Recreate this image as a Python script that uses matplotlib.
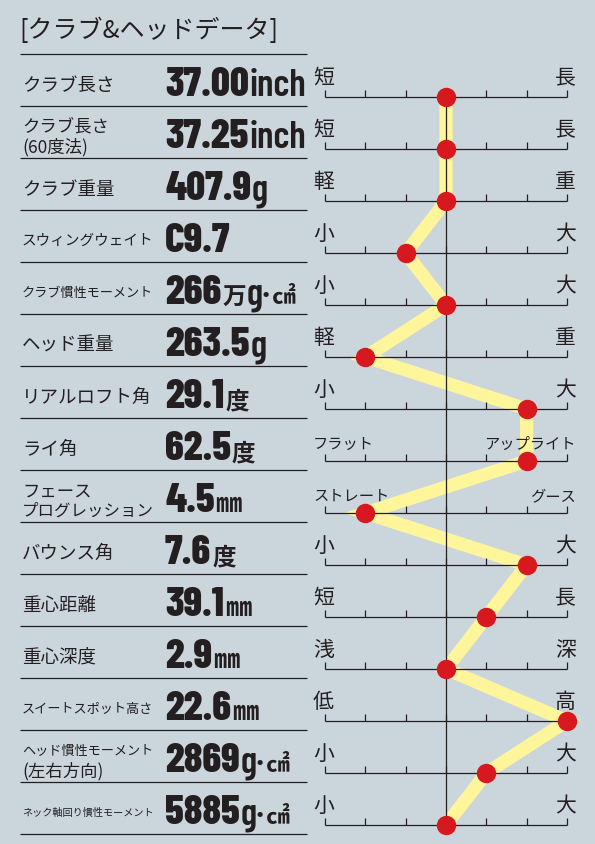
import matplotlib
matplotlib.use("Agg")
import matplotlib.pyplot as plt
from matplotlib import font_manager

# ---- data ----
labels = ["クラブ長さ", "クラブ長さ\n(60度法)", "クラブ重量", "スウィングウェイト",
          "クラブ慣性モーメント", "ヘッド重量", "リアルロフト角", "ライ角",
          "フェース\nプログレッション", "バウンス角", "重心距離", "重心深度",
          "スイートスポット高さ", "ヘッド慣性モーメント\n(左右方向)", "ネック軸回り慣性モーメント"]
numbers = ["37.00", "37.25", "407.9", "C9.7", "266", "263.5", "29.1", "62.5",
           "4.5", "7.6", "39.1", "2.9", "22.6", "2869", "5885"]
units = ["inch", "inch", "g", "", "万g·㎠", "g", "度", "度",
         "㎜", "度", "㎜", "㎜", "㎜", "g·㎠", "g·㎠"]
left_ends = ["短", "短", "軽", "小", "小", "軽", "小", "フラット", "ストレート",
             "小", "短", "浅", "低", "小", "小"]
right_ends = ["長", "長", "重", "大", "大", "重", "大", "アップライト", "グース",
              "大", "長", "深", "高", "大", "大"]
ratings = [0, 0, 0, -1, 0, -2, 2, 2, -2, 2, 1, 0, 3, 1, 0]
scale_ticks = [-3, -2, -1, 0, 1, 2, 3]
title = "[クラブ&ヘッドデータ]"

bg = "#cbd5dc"
ink = "#231f20"
yellow = "#fff59b"
red = "#d7191f"

avail = {f.name for f in font_manager.fontManager.ttflist}


def pick(*cands):
    for c in cands:
        if c in avail:
            return [c, "DejaVu Sans"]
    return ["DejaVu Sans"]


JP = ["Noto Sans CJK JP", "DejaVu Sans"]
NUM = pick("Barlow Condensed", "Roboto Condensed", "Archivo Narrow", "Oswald", "Roboto")

fig = plt.figure(figsize=(5.95, 8.44), dpi=100)
fig.patch.set_facecolor(bg)

# scale panel: x = rating, y = row index
n = len(labels)
axr = fig.add_axes([325 / 595, 1 - 825 / 844, 242 / 595, 728 / 844])
axr.set_xlim(-3, 3)
axr.set_ylim(n - 1, 0)
axr.axis("off")
axr.set_zorder(1)

ax = fig.add_axes([0, 0, 1, 1])
ax.set_xlim(0, 595)
ax.set_ylim(844, 0)
ax.axis("off")
ax.set_zorder(2)
renderer = fig.canvas.get_renderer()


def put(x, y, s, size, family, weight="normal", ha="left"):
    t = ax.text(x, y, s, fontsize=size, family=family, fontweight=weight,
                ha=ha, va="baseline", color=ink)
    return t.get_window_extent(renderer).width


def fit_size(s, size, width):
    t = ax.text(0, 0, s, fontsize=size, family=JP)
    w = t.get_window_extent(renderer).width
    t.remove()
    return min(size, size * width / w)


def is_cjk(c):
    return ord(c) > 0x2000 and c != "·"


# title
put(19, 38, title, 18, JP)

pitch = 52
ax.hlines([54 + pitch * k for k in range(n + 1)], 20, 307, color=ink, lw=0.9)

for i in range(n):
    mid = 83.5 + pitch * i
    lines = labels[i].split("\n")
    if len(lines) == 1:
        fs = fit_size(lines[0], 13.3, 132)
        put(22, mid + 0.39 * fs * 100 / 72, lines[0], fs, JP)
    else:
        for s, dy in zip(lines, (-10, 10)):
            fs = fit_size(s, 12.5, 132)
            put(22, mid + dy + 0.39 * fs * 100 / 72, s, fs, JP)

    # value: heavy condensed digits, then unit pieces
    vb = 96.5 + pitch * i
    x = 165
    x += put(x, vb, numbers[i], 30, NUM, 800) + 1
    runs = []
    for c in units[i]:
        if runs and is_cjk(runs[-1][-1]) == is_cjk(c):
            runs[-1] += c
        else:
            runs.append(c)
    for r in runs:
        if r == "㎜":
            x += put(x, vb, r, 19, JP, "bold") + 1
        elif is_cjk(r[0]):
            x += put(x, vb, r, 17, JP, "bold") + 1
        else:
            x += put(x, vb, r, 27, NUM, 600) + 1

    # scale end labels
    sb = 84 + pitch * i
    for s, xx, ha in ((left_ends[i], 313, "left"), (right_ends[i], 576, "right")):
        if len(s) == 1:
            put(xx, sb, s, 15, JP, ha=ha)
        else:
            put(xx, sb + 1, s, 11, JP, ha=ha)

rows = list(range(n))
axr.hlines(rows, -3, 3, color=ink, lw=0.9, zorder=3, clip_on=False)
for i in rows:
    axr.vlines(scale_ticks, i - 7 / 52, i, color=ink, lw=0.9, zorder=3, clip_on=False)
axr.vlines(0, 0, n - 1, color=ink, lw=0.9, zorder=3, clip_on=False)
axr.plot(ratings, rows, color=yellow, lw=9.5, zorder=2, clip_on=False,
         solid_joinstyle="miter")
axr.plot(ratings, rows, "o", color=red, ms=14, mec="none", zorder=4, clip_on=False)

fig.savefig("out.png", dpi=100, facecolor=bg)
